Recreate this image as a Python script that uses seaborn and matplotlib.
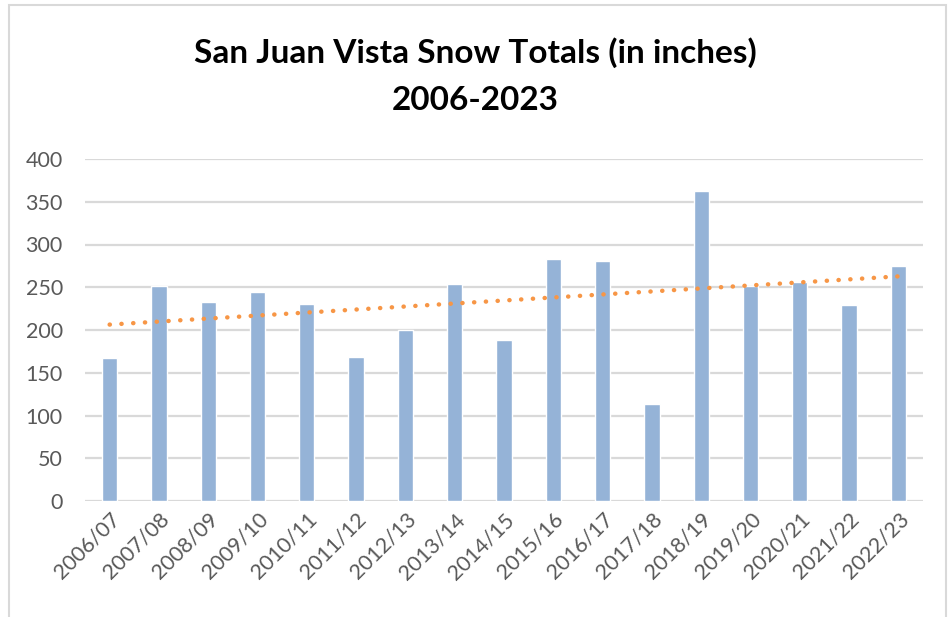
import numpy as np
import pandas as pd
import matplotlib
matplotlib.use("Agg")
import matplotlib.pyplot as plt
import seaborn as sns
from matplotlib.patches import Rectangle

seasons = ["2006/07", "2007/08", "2008/09", "2009/10", "2010/11", "2011/12",
           "2012/13", "2013/14", "2014/15", "2015/16", "2016/17", "2017/18",
           "2018/19", "2019/20", "2020/21", "2021/22", "2022/23"]
snow = [167, 251, 233, 244, 230, 169, 200, 254, 188, 283, 281, 113,
        363, 251, 256, 229, 275]
yticks = [0, 50, 100, 150, 200, 250, 300, 350, 400]

df = pd.DataFrame({"season": seasons, "snow": snow})

sns.set_theme(style="white")
plt.rcParams["font.family"] = ["Lato", "DejaVu Sans"]

fig = plt.figure(figsize=(9.51, 6.17), dpi=100)
ax = fig.add_axes([85/951, 1 - 501/617, (923-85)/951, (501-159)/617])

sns.barplot(data=df, x="season", y="snow", color="#95B3D7", width=0.31,
            saturation=1, ax=ax, zorder=3)
sns.regplot(x=np.arange(len(snow)), y=np.array(snow, dtype=float), scatter=False,
            ci=None, ax=ax, color="#F79646",
            line_kws=dict(linestyle=(0, (0.05, 2.6)), linewidth=3.2,
                          dash_capstyle="round", zorder=4))

ax.set_xlim(-0.5, len(seasons) - 0.5)
ax.set_ylim(0, 400)
ax.set_yticks(yticks)
ax.set_yticklabels([str(t) for t in yticks])
ax.set_xticks(range(len(seasons)))
ax.set_xticklabels(seasons, rotation=45, ha="right", rotation_mode="anchor")
ax.tick_params(axis="y", length=0, pad=16, labelsize=15.5, labelcolor="#595959")
ax.tick_params(axis="x", length=0, pad=6, labelsize=15.5, labelcolor="#595959")
ax.set_xlabel("")
ax.set_ylabel("")
ax.yaxis.grid(True, color="#D9D9D9", linewidth=1.6, zorder=0)
ax.set_axisbelow(True)
for s in ax.spines.values():
    s.set_visible(False)

fig.text(0.5, 1 - 53/617, "San Juan Vista Snow Totals (in inches)",
         ha="center", va="center", fontsize=24, fontweight="bold", color="black")
fig.text(0.5, 1 - 100/617, "2006-2023",
         ha="center", va="center", fontsize=24, fontweight="bold", color="black")

fig.patches.append(Rectangle((9/951, -0.1), (946-9)/951, 1.1 - 5/617,
                             transform=fig.transFigure, fill=False,
                             edgecolor="#D9D9D9", linewidth=1.5))

fig.savefig("out.png", dpi=100, facecolor="white")
